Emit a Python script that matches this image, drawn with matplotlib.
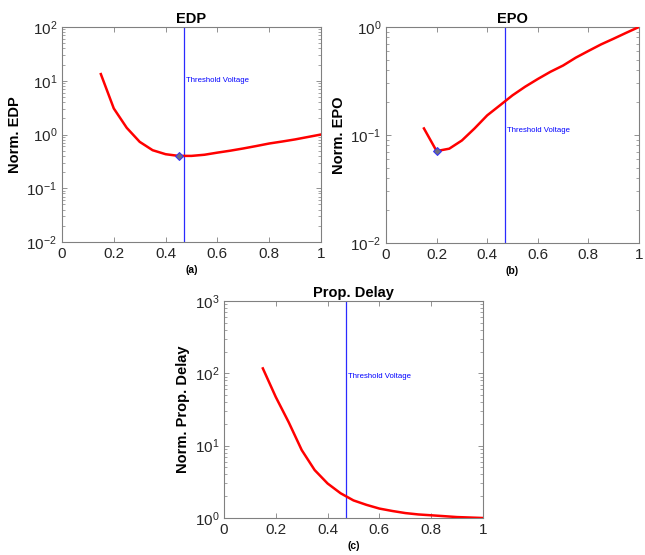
import matplotlib
matplotlib.use('Agg')
import matplotlib.pyplot as plt
from matplotlib.ticker import LogLocator, NullFormatter

plt.rcParams['font.family'] = ['Liberation Sans', 'DejaVu Sans']
plt.rcParams['mathtext.fontset'] = 'custom'
plt.rcParams['mathtext.rm'] = 'Liberation Sans'
plt.rcParams['mathtext.default'] = 'regular'

# ---------------- data ----------------
vdd = [0.15, 0.20, 0.25, 0.30, 0.35, 0.40, 0.45, 0.50, 0.55, 0.60,
       0.65, 0.70, 0.75, 0.80, 0.85, 0.90, 0.95, 1.00]

edp = [13.3, 3.05, 1.33, 0.73, 0.51, 0.43, 0.40, 0.40, 0.42, 0.46,
       0.50, 0.55, 0.61, 0.68, 0.74, 0.81, 0.90, 1.00]

epo = [0.115, 0.071, 0.0747, 0.089, 0.115, 0.152, 0.188, 0.233, 0.28, 0.33,
       0.385, 0.44, 0.52, 0.60, 0.69, 0.78, 0.885, 1.00]

delay = [117, 47, 21, 8.7, 4.6, 3.0, 2.2, 1.75, 1.52, 1.35,
         1.25, 1.17, 1.12, 1.09, 1.06, 1.03, 1.015, 1.00]

v_threshold = 0.47
edp_opt = (0.45, 0.40)
epo_opt = (0.20, 0.071)

panels = [
    # title, ylabel, values, ylim, label pos y, tag, optimum
    ('EDP', 'Norm. EDP', edp, (1e-2, 1e2), 10.0, '(a)', edp_opt),
    ('EPO', 'Norm. EPO', epo, (1e-2, 1e0), 0.11, '(b)', epo_opt),
    ('Prop. Delay', 'Norm. Prop. Delay', delay, (1e0, 1e3), 90.0, '(c)', None),
]

W, H = 645, 555
rects = [
    (62, 27, 321, 242),
    (386, 27, 639, 243),
    (224, 301, 483, 518),
]

fig = plt.figure(figsize=(W / 100, H / 100), dpi=100)
fig.patch.set_facecolor('white')

grey = '#262626'
spine_grey = '#808080'

for (title, ylabel, vals, ylim, txt_y, tag, opt), (x0, y0, x1, y1) in zip(panels, rects):
    ax = fig.add_axes([x0 / W, 1 - y1 / H, (x1 - x0) / W, (y1 - y0) / H])
    ax.plot(vdd, vals, color='#ff0000', linewidth=1.8, zorder=3)
    ax.axvline(v_threshold, color='#2a2aff', linewidth=0.9, zorder=2)
    ax.text(v_threshold + 0.01, txt_y, 'Threshold Voltage', color='#0000ff',
            fontsize=5.6, va='center', ha='left')
    if opt is not None:
        ax.plot([opt[0]], [opt[1]], marker='D', markersize=4.5,
                markerfacecolor='#6e6e80', markeredgecolor='#3030ff',
                markeredgewidth=0.7, zorder=4)

    ax.set_yscale('log')
    ax.set_xlim(0, 1)
    ax.set_ylim(*ylim)
    ax.set_xticks([0, 0.2, 0.4, 0.6, 0.8, 1])
    ax.set_xticklabels(['0', '0.2', '0.4', '0.6', '0.8', '1'])
    ax.yaxis.set_major_locator(LogLocator(base=10, numticks=10))
    ax.yaxis.set_minor_locator(LogLocator(base=10, subs=range(2, 10), numticks=20))
    ax.yaxis.set_minor_formatter(NullFormatter())

    ax.tick_params(which='both', direction='in', top=True, right=True,
                   colors=spine_grey, labelcolor=grey, labelsize=11)
    ax.tick_params(which='major', length=3.5, width=0.6)
    ax.tick_params(which='minor', length=2, width=0.5)
    for s in ax.spines.values():
        s.set_color(spine_grey)
        s.set_linewidth(0.8)

    ax.set_title(title, fontsize=10.5, fontweight='bold', pad=3)
    ax.set_ylabel(ylabel, fontsize=10.5, fontweight='bold', labelpad=3)
    ax.text(0.5, -0.105, tag, transform=ax.transAxes, ha='center', va='top',
            fontsize=7.5, fontweight='bold')

fig.savefig('out.png', dpi=100, facecolor='white')
